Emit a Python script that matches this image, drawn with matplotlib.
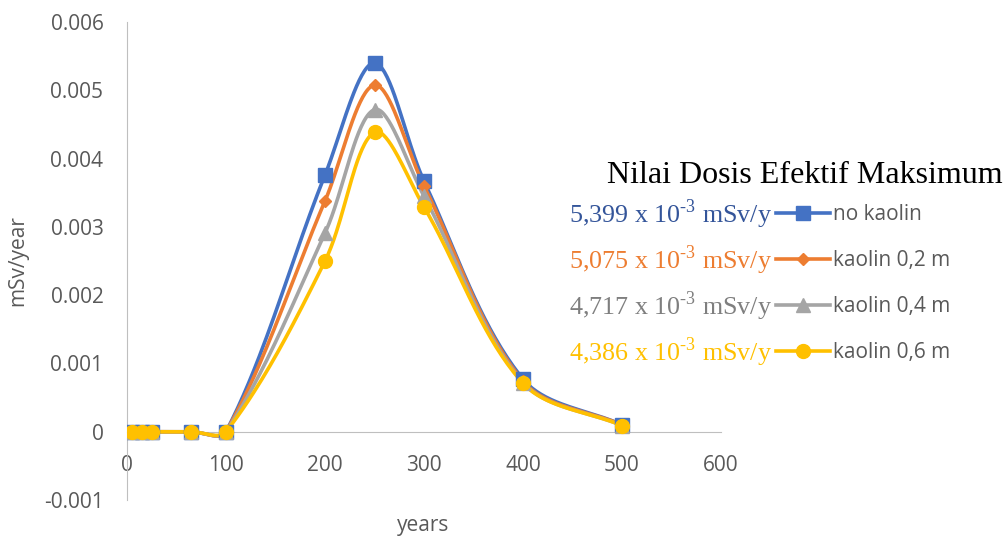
import matplotlib
matplotlib.use("Agg")
import matplotlib.pyplot as plt
import numpy as np

# data
years = [5, 15, 25, 65, 100, 200, 250, 300, 400, 500]
no_kaolin = [0, 0, 0, 0, 0, 0.00376, 0.005399, 0.00367, 0.00077, 0.00010]
kaolin_02 = [0, 0, 0, 0, 0, 0.00338, 0.005075, 0.00360, 0.00074, 0.00010]
kaolin_04 = [0, 0, 0, 0, 0, 0.00291, 0.004717, 0.00345, 0.00072, 0.00009]
kaolin_06 = [0, 0, 0, 0, 0, 0.00250, 0.004386, 0.00329, 0.00071, 0.00009]

labels = ["no kaolin", "kaolin 0,2 m", "kaolin 0,4 m", "kaolin 0,6 m"]
max_text = ["5,399 x 10$^{\\mathdefault{\u20103}}$ mSv/y",
            "5,075 x 10$^{\\mathdefault{\u20103}}$ mSv/y",
            "4,717 x 10$^{\\mathdefault{\u20103}}$ mSv/y",
            "4,386 x 10$^{\\mathdefault{\u20103}}$ mSv/y"]
colors = ["#4472C4", "#ED7D31", "#A5A5A5", "#FFC000"]
text_colors = ["#34559A", "#ED7D31", "#7F7F7F", "#FFC000"]
markers = ["s", "D", "^", "o"]
msizes = [10, 6.5, 10, 10]


def smooth(ax, x, y, n=40):
    # excel-like smoothed line: bezier segments, tangents weighted by
    # segment length in screen space
    pts = ax.transData.transform(np.column_stack([x, y]))
    p = np.vstack([pts[0], pts, pts[-1]])
    t = np.linspace(0, 1, n)[:, None]
    out = []
    for i in range(1, len(p) - 2):
        p0, p3 = p[i], p[i + 1]
        d_prev = np.hypot(*(p[i] - p[i - 1]))
        d_seg = np.hypot(*(p3 - p0))
        d_next = np.hypot(*(p[i + 2] - p3))
        f1 = d_seg / (d_prev + d_seg) / 3 if d_prev + d_seg > 0 else 0
        f2 = d_seg / (d_seg + d_next) / 3 if d_seg + d_next > 0 else 0
        c1 = p0 + (p3 - p[i - 1]) * f1
        c2 = p3 - (p[i + 2] - p0) * f2
        b = (1 - t) ** 3 * p0 + 3 * (1 - t) ** 2 * t * c1 + 3 * (1 - t) * t ** 2 * c2 + t ** 3 * p3
        out.append(b)
    out = ax.transData.inverted().transform(np.vstack(out))
    return out[:, 0], out[:, 1]


fig = plt.figure(figsize=(10.05, 5.38), dpi=100)
ax = fig.add_axes([0.1264, 0.0706, 0.5910, 0.8885])
ax.set_xlim(0, 600)
ax.set_ylim(-0.001, 0.006)

handles = []
for yv, c, m, ms, lab in zip([no_kaolin, kaolin_02, kaolin_04, kaolin_06],
                             colors, markers, msizes, labels):
    sx, sy = smooth(ax, years, yv)
    ax.plot(sx, sy, color=c, lw=2.6, zorder=3)
    ax.plot(years, yv, ls="none", marker=m, ms=ms, color=c, zorder=4)
    h, = ax.plot([], [], color=c, lw=2.6, marker=m, ms=ms)
    handles.append(h)

ax.set_xticks(np.arange(0, 601, 100))
ax.set_yticks(np.arange(-0.001, 0.0061, 0.001))
ax.set_yticklabels(["-0.001", "0", "0.001", "0.002", "0.003", "0.004", "0.005", "0.006"])
for s in ["top", "right"]:
    ax.spines[s].set_visible(False)
ax.spines["bottom"].set_position(("data", 0))
ax.spines["left"].set_color("#BFBFBF")
ax.spines["bottom"].set_color("#BFBFBF")
ax.tick_params(length=0, labelsize=15, labelcolor="#595959")
ax.tick_params(axis="x", pad=17)
ax.tick_params(axis="y", pad=17)
for t in ax.get_xticklabels() + ax.get_yticklabels():
    t.set_fontfamily("Open Sans")

fig.text(423 / 1005, 1 - 525 / 538, "years", ha="center", va="center",
         fontsize=15, color="#595959", family="Open Sans")
fig.text(18 / 1005, 1 - 261 / 538, "mSv/year", ha="center", va="center",
         rotation=90, fontsize=15, color="#595959", family="Open Sans")

fig.text(607 / 1005, 1 - 183 / 538, "Nilai Dosis Efektif Maksimum", ha="left",
         va="baseline", fontsize=23, family="Liberation Serif", color="black")

leg = fig.legend(handles, labels, loc="upper left",
                 bbox_to_anchor=(776 / 1005, 1 - 204 / 538), frameon=False,
                 prop={"family": "Open Sans", "size": 15}, labelcolor="#595959",
                 handlelength=2.6, handletextpad=0.15, labelspacing=1.2,
                 borderpad=0, borderaxespad=0)

fig.canvas.draw()
r = fig.canvas.get_renderer()
inv = fig.transFigure.inverted()
for txt, s, c in zip(leg.get_texts(), max_text, text_colors):
    bb = txt.get_window_extent(r)
    yc = (bb.y0 + bb.y1) / 2
    fx, fy = inv.transform((772, yc))
    fig.text(fx, fy, s, ha="right", va="center", fontsize=18.7,
             family="Liberation Serif", color=c)

fig.savefig("out.png", dpi=100)
